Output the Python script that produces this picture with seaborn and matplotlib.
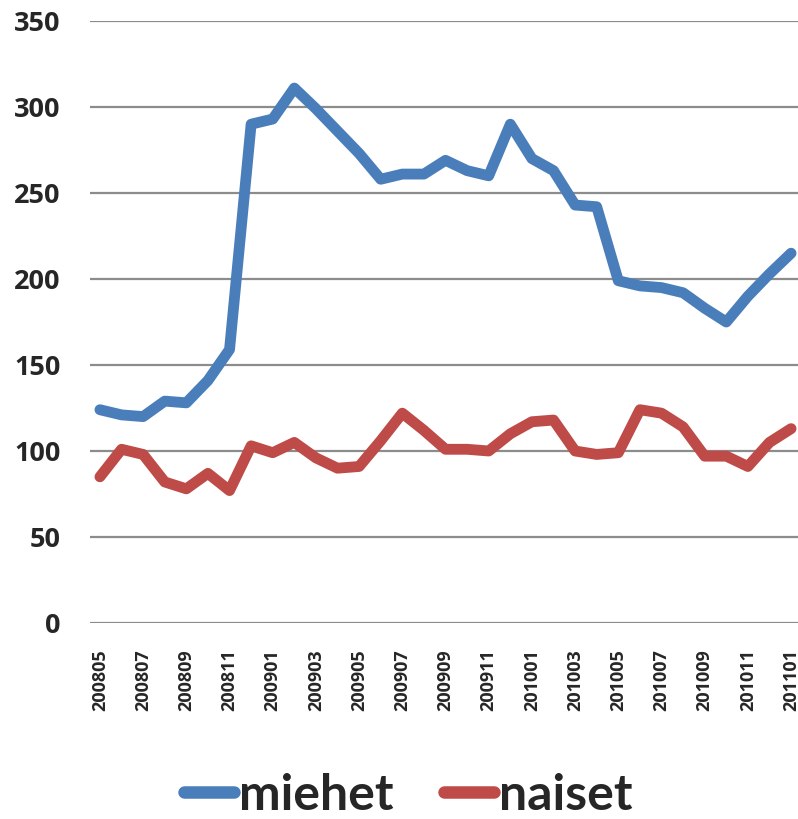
import pandas as pd
import seaborn as sns
import matplotlib.pyplot as plt

months = ['200805', '200806', '200807', '200808', '200809', '200810', '200811',
          '200812', '200901', '200902', '200903', '200904', '200905', '200906',
          '200907', '200908', '200909', '200910', '200911', '200912', '201001',
          '201002', '201003', '201004', '201005', '201006', '201007', '201008',
          '201009', '201010', '201011', '201012', '201101']

miehet = [124, 121, 120, 129, 128, 141, 159, 290, 293, 311, 299, 286, 273,
          258, 261, 261, 269, 263, 260, 290, 270, 263, 243, 242, 199, 196,
          195, 192, 183, 175, 190, 203, 215]

naiset = [85, 101, 98, 82, 78, 87, 77, 103, 99, 105, 96, 90, 91, 106, 122,
          112, 101, 101, 100, 110, 117, 118, 100, 98, 99, 124, 122, 114, 97,
          97, 91, 105, 113]

df = pd.DataFrame({'idx': list(range(len(months))) * 2,
                   'value': miehet + naiset,
                   'series': ['miehet'] * len(months) + ['naiset'] * len(months)})

sns.set_style('white')
plt.rcParams['font.family'] = ['Open Sans', 'DejaVu Sans']
plt.rcParams['font.weight'] = 'bold'

fig = plt.figure(figsize=(7.98, 8.19), dpi=100)
ax = fig.add_axes([90 / 798, 1 - 623 / 819, 708 / 798, 602 / 819])

sns.lineplot(data=df, x='idx', y='value', hue='series',
             palette={'miehet': '#4A7EBB', 'naiset': '#BE4B48'},
             linewidth=7.8, ax=ax, solid_capstyle='round', solid_joinstyle='round')

ax.set_xlim(-0.46, 32.32)
ax.set_ylim(0, 350)
ax.set_yticks(range(0, 351, 50))
ax.set_xticks(range(0, len(months), 2))
ax.set_xticklabels(months[::2], rotation=90, fontsize=13, fontweight='bold')
ax.tick_params(axis='y', labelsize=19.5, pad=21, length=0)
ax.tick_params(axis='x', pad=19, length=0)
for lab in ax.get_yticklabels():
    lab.set_fontweight('bold')

ax.grid(axis='y', color='#8c8c8c', linewidth=1.6)
ax.set_axisbelow(True)
for s in ax.spines.values():
    s.set_visible(False)
ax.set_xlabel('')
ax.set_ylabel('')

ax.legend(loc='center', bbox_to_anchor=(408 / 798, 24 / 819), bbox_transform=fig.transFigure,
          ncol=2, frameon=False, handlelength=1.0, handletextpad=0.1,
          columnspacing=1.0, prop={'family': 'Lato', 'weight': 'bold', 'size': 36})
for line in ax.get_legend().get_lines():
    line.set_linewidth(9)
    line.set_solid_capstyle('round')

fig.savefig('out.png', dpi=100)
